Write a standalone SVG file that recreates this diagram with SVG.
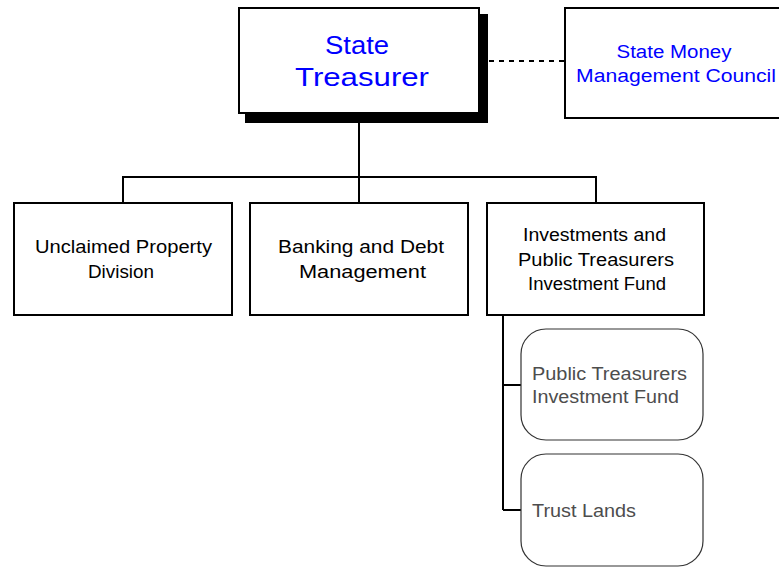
<svg xmlns="http://www.w3.org/2000/svg" width="779" height="568" viewBox="0 0 779 568">
<style>
.box{fill:#fff;stroke:#000;stroke-width:2}
.rbox{fill:#fff;stroke:#333;stroke-width:1.2}
.line{stroke:#000;stroke-width:2;fill:none}
text{font-family:"Liberation Sans",Arial,sans-serif;text-anchor:middle}
.blue{fill:#0000ff}
.big{font-size:25px}
.mid{font-size:18px}
.t{font-size:17.5px;fill:#000}
.g{font-size:17.5px;fill:#4d4d4d;text-anchor:start}
</style>
<rect width="779" height="568" fill="#fff"/>
<g id="connectors">
<path class="line" d="M359 113V177M123 177H596M123 176V203M359 177V203M596 176V203"/>
<path class="line" stroke-dasharray="5,5" d="M489 61H565"/>
<path class="line" d="M503 315V510M503 385H521M503 510H521"/>
</g>
<g id="state-treasurer">
<rect x="245" y="14" width="243" height="109" fill="#000"/>
<rect class="box" x="239" y="8" width="240" height="105"/>
<text class="blue big" x="357" y="54" textLength="64" lengthAdjust="spacingAndGlyphs">State</text>
<text class="blue big" x="362" y="86" textLength="134" lengthAdjust="spacingAndGlyphs">Treasurer</text>
</g>
<g id="council">
<rect class="box" x="565" y="8" width="230" height="110"/>
<text class="blue mid" x="674" y="58" textLength="115" lengthAdjust="spacingAndGlyphs">State Money</text>
<text class="blue mid" x="676" y="82" textLength="200" lengthAdjust="spacingAndGlyphs">Management Council</text>
</g>
<g id="unclaimed">
<rect class="box" x="14" y="203" width="218" height="112"/>
<text class="t" x="123.5" y="253" textLength="177" lengthAdjust="spacingAndGlyphs">Unclaimed Property</text>
<text class="t" x="121" y="278" textLength="66" lengthAdjust="spacingAndGlyphs">Division</text>
</g>
<g id="banking">
<rect class="box" x="250" y="203" width="218" height="112"/>
<text class="t" x="361" y="253" textLength="166" lengthAdjust="spacingAndGlyphs">Banking and Debt</text>
<text class="t" x="362.5" y="278" textLength="127" lengthAdjust="spacingAndGlyphs">Management</text>
</g>
<g id="investments">
<rect class="box" x="487" y="203" width="217" height="112"/>
<text class="t" x="594.5" y="241" textLength="143" lengthAdjust="spacingAndGlyphs">Investments and</text>
<text class="t" x="596" y="266" textLength="156" lengthAdjust="spacingAndGlyphs">Public Treasurers</text>
<text class="t" x="597" y="290" textLength="138" lengthAdjust="spacingAndGlyphs">Investment Fund</text>
</g>
<g id="ptif">
<rect class="rbox" x="521" y="329" width="182" height="111" rx="25" ry="25"/>
<text class="g" x="532" y="380" textLength="155" lengthAdjust="spacingAndGlyphs">Public Treasurers</text>
<text class="g" x="532" y="403" textLength="147" lengthAdjust="spacingAndGlyphs">Investment Fund</text>
</g>
<g id="trust-lands">
<rect class="rbox" x="521" y="454" width="182" height="112" rx="25" ry="25"/>
<text class="g" x="532" y="517" textLength="104" lengthAdjust="spacingAndGlyphs">Trust Lands</text>
</g>
</svg>
